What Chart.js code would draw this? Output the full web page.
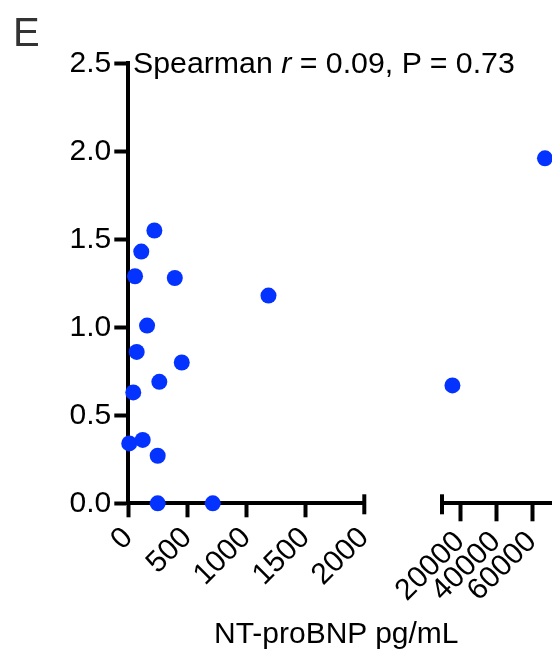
<!DOCTYPE html>
<html>
<head>
<meta charset="utf-8">
<script src="https://cdn.jsdelivr.net/npm/chart.js@4.4.0/dist/chart.umd.min.js"></script>
<style>
  html, body { margin: 0; padding: 0; background: #fff; overflow: hidden; }
  body { width: 552px; height: 652px; position: relative; font-family: 'Liberation Sans', Arial, Helvetica, sans-serif; }
  canvas { position: absolute; left: 0; top: 0; }
  .txt { position: absolute; white-space: nowrap; color: #000; }
  #panel { left: 13px; top: 12px; font-size: 40px; line-height: 40px; color: #333; }
  #stat { left: 133px; top: 48px; font-size: 30.3px; line-height: 30px; }
  #xtitle { left: 214px; top: 617.5px; font-size: 30px; line-height: 30px; }
</style>
</head>
<body>
<canvas id="leftChart" width="552" height="652"></canvas>
<canvas id="rightChart" width="620" height="652"></canvas>
<div class="txt" id="panel">E</div>
<div class="txt" id="stat">Spearman <i>r</i> = 0.09, P = 0.73</div>
<div class="txt" id="xtitle">NT-proBNP pg/mL</div>

<script>
// values
const ntProBnp = [221, 110, 57, 394, 1188, 159, 71, 453, 263, 42, 8, 122, 249, 249, 716, 15800, 67200];
const yValues = [1.55, 1.43, 1.29, 1.28, 1.18, 1.01, 0.86, 0.80, 0.69, 0.63, 0.34, 0.36, 0.27, 0, 0, 0.67, 1.96];
const leftTicks = [0, 500, 1000, 1500, 2000];
const rightTicks = [20000, 40000, 60000];
const yTicks = [0, 0.5, 1.0, 1.5, 2.0, 2.5];

const dotColor = '#0433ff';
Chart.defaults.font.family = "'Liberation Sans', Arial, Helvetica, sans-serif";
Chart.defaults.color = '#000';

function points(lo, hi) {
  const pts = [];
  ntProBnp.forEach((x, i) => {
    if (x >= lo && x <= hi) pts.push({ x: x, y: yValues[i] });
  });
  return pts;
}

// short vertical bar where an axis segment stops (the break)
const capPlugin = {
  id: 'caps',
  afterDraw(chart, args, opts) {
    const xs = chart.scales.x;
    const ctx = chart.ctx;
    const px = xs.getPixelForValue(opts.value);
    ctx.save();
    ctx.strokeStyle = '#000';
    ctx.lineWidth = 4;
    ctx.beginPath();
    ctx.moveTo(px, xs.top - 9);
    ctx.lineTo(px, xs.top + 11);
    ctx.stroke();
    ctx.restore();
  }
};

const dataset = (pts) => ({
  data: pts,
  backgroundColor: dotColor,
  borderWidth: 0,
  pointRadius: 8,
  pointHoverRadius: 8,
  clip: false
});

// left part: 0 - 2000 with the y axis
new Chart(document.getElementById('leftChart'), {
  type: 'scatter',
  data: { datasets: [dataset(points(0, 2000))] },
  plugins: [capPlugin],
  options: {
    responsive: false,
    animation: false,
    events: [],
    layout: { padding: { top: 63.3, left: 0, right: 187.7, bottom: 0 } },
    plugins: { legend: { display: false }, tooltip: { enabled: false }, caps: { value: 2000 } },
    scales: {
      x: {
        type: 'linear',
        min: 0,
        max: 2000,
        afterBuildTicks: s => { s.ticks = leftTicks.map(v => ({ value: v })); },
        afterFit: s => { s.height = 148.7; },
        border: { color: '#000', width: 4 },
        grid: {
          drawOnChartArea: false,
          tickLength: 14,
          tickWidth: 4,
          tickColor: c => (c.tick && c.tick.value === 2000) ? 'rgba(0,0,0,0)' : '#000'
        },
        ticks: {
          minRotation: 45,
          maxRotation: 45,
          padding: 3,
          font: { size: 30 },
          color: '#000',
          callback: v => String(v)
        }
      },
      y: {
        type: 'linear',
        min: 0,
        max: 2.5,
        afterBuildTicks: s => { s.ticks = yTicks.map(v => ({ value: v })); },
        afterFit: s => { s.width = 128.3; },
        border: { color: '#000', width: 4 },
        grid: { drawOnChartArea: false, tickLength: 14, tickWidth: 4, tickColor: '#000' },
        ticks: {
          padding: 3,
          font: { size: 30 },
          color: '#000',
          callback: v => v.toFixed(1)
        }
      }
    }
  }
});

// right part: 10000 and up, no y axis
new Chart(document.getElementById('rightChart'), {
  type: 'scatter',
  data: { datasets: [dataset(points(10000, 80000))] },
  plugins: [capPlugin],
  options: {
    responsive: false,
    animation: false,
    events: [],
    layout: { padding: { top: 63.3, left: 442, right: 52, bottom: 0 } },
    plugins: { legend: { display: false }, tooltip: { enabled: false }, caps: { value: 10000 } },
    scales: {
      x: {
        type: 'linear',
        min: 10000,
        max: 80000,
        afterBuildTicks: s => { s.ticks = rightTicks.map(v => ({ value: v })); },
        afterFit: s => { s.height = 148.7; },
        border: { color: '#000', width: 4 },
        grid: { drawOnChartArea: false, tickLength: 18, tickWidth: 4, tickColor: '#000' },
        ticks: {
          minRotation: 45,
          maxRotation: 45,
          padding: 3,
          font: { size: 30 },
          color: '#000',
          callback: v => String(v)
        }
      },
      y: { type: 'linear', min: 0, max: 2.5, display: false }
    }
  }
});
</script>
</body>
</html>
